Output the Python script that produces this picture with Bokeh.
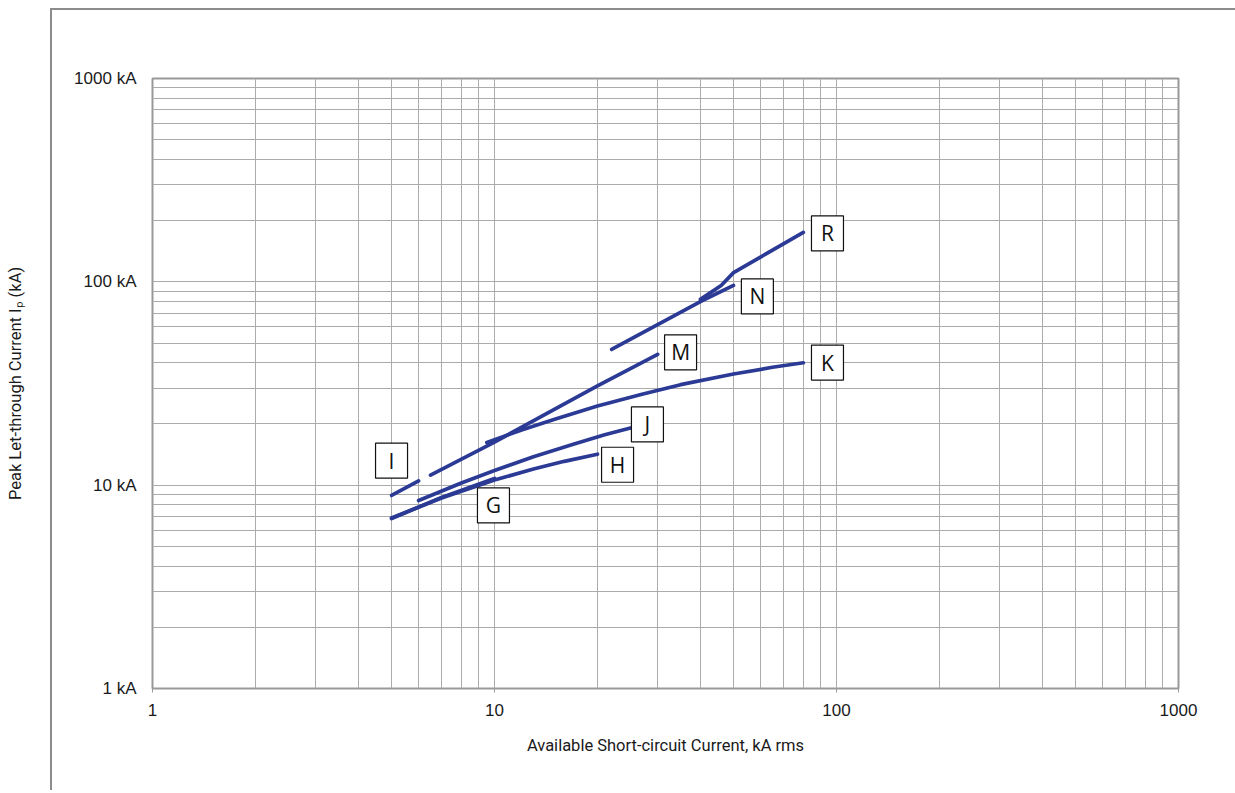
from bokeh.plotting import figure
from bokeh.models import FixedTicker, ColumnDataSource, InlineStyleSheet
from bokeh.core.properties import value
from bokeh.embed import file_html
from bokeh.resources import INLINE

# ---- data (kA rms available vs kA peak let-through) ----
G_x = [5, 7, 10]
G_y = [6.85, 8.7, 10.8]
H_x = [5, 7, 10, 13, 16, 20]
H_y = [6.9, 8.65, 10.6, 12.0, 13.1, 14.2]
I_x = [5, 6]
I_y = [8.9, 10.5]
J_x = [6, 8, 10, 13, 17, 21, 25.3]
J_y = [8.4, 10.25, 11.8, 13.8, 15.9, 17.7, 19.2]
M_x = [6.5, 10, 20, 30]
M_y = [11.2, 16.3, 30.8, 44]
K_x = [9.5, 12, 15, 20, 27, 35, 50, 65, 80]
K_y = [16.2, 18.7, 21.1, 24.5, 28.0, 31.2, 35.2, 38.0, 40.0]
N_x = [22, 40, 50]
N_y = [46.5, 80, 96]
R_x = [40, 46, 50, 80]
R_y = [82, 96, 111, 175]

series = [("G", G_x, G_y), ("H", H_x, H_y), ("I", I_x, I_y), ("J", J_x, J_y),
          ("M", M_x, M_y), ("K", K_x, K_y), ("N", N_x, N_y), ("R", R_x, R_y)]

label_text = ["I", "G", "H", "J", "M", "K", "N", "R"]
label_x = [5.0, 9.93, 22.9, 28.0, 35.0, 94.1, 58.7, 94.1]
label_y = [13.2, 7.95, 12.6, 19.9, 45.0, 40.1, 84.8, 173]

x_ticks = [1, 10, 100, 1000]
x_tick_labels = ["1", "10", "100", "1000"]
y_ticks = [1, 10, 100, 1000]
y_tick_labels = ["1 kA", "10 kA", "100 kA", "1000 kA"]

CURVE = "#2b3a94"
GRID = "#ababab"
FRAME = "#999999"

page_rule = InlineStyleSheet(css=""":host::after {
  content: ''; position: absolute; left: 50px; top: 8px; right: 0; bottom: 0;
  border-top: 2px solid #8c8c8c; border-left: 2px solid #8c8c8c;
  pointer-events: none; }""")

p = figure(width=1235, height=790, x_axis_type="log", y_axis_type="log",
           x_range=(1, 1000), y_range=(1, 1000),
           output_backend="svg", toolbar_location=None,
           min_border_left=152, min_border_right=57,
           min_border_top=78, min_border_bottom=102)
p.stylesheets = [page_rule]

p.outline_line_color = FRAME
p.outline_line_width = 2
p.background_fill_color = "white"
p.border_fill_color = "white"

# grid
for g in (p.xgrid, p.ygrid):
    g.grid_line_color = GRID
    g.grid_line_width = 1
    g.minor_grid_line_color = GRID
    g.minor_grid_line_width = 1

minor = [m * d for d in (1, 10, 100) for m in range(2, 10)]
p.xaxis.ticker = FixedTicker(ticks=x_ticks, minor_ticks=minor)
p.yaxis.ticker = FixedTicker(ticks=y_ticks, minor_ticks=minor)
p.xaxis.major_label_overrides = {t: s for t, s in zip(x_ticks, x_tick_labels)}
p.yaxis.major_label_overrides = {t: s for t, s in zip(y_ticks, y_tick_labels)}

for ax in (p.xaxis, p.yaxis):
    ax.axis_line_color = None
    ax.minor_tick_line_color = None
    ax.major_label_text_font = "Liberation Sans"
    ax.major_label_text_font_size = "17px"
    ax.major_label_text_color = "#1a1a1a"
    ax.axis_label_text_font = "Roboto"
    ax.axis_label_text_font_size = "16.5px"
    ax.axis_label_text_font_style = "normal"
    ax.axis_label_text_color = "#1a1a1a"

p.xaxis.major_tick_line_color = FRAME
p.xaxis.major_tick_in = 0
p.xaxis.major_tick_out = 4
p.xaxis.major_label_standoff = 11
p.xaxis.axis_label = "Available Short-circuit Current, kA rms"
p.xaxis.axis_label_standoff = 17

p.yaxis.major_tick_line_color = None
p.yaxis.major_tick_in = 0
p.yaxis.major_tick_out = 0
p.yaxis.major_label_standoff = 12
p.yaxis.axis_label = "Peak Let-through Current Iₚ (kA)"
p.yaxis.axis_label_standoff = 46

# curves
for name, xs, ys in series:
    p.line(xs, ys, line_color=CURVE, line_width=3.7, line_cap="round", line_join="round")

# label boxes
src = ColumnDataSource(dict(x=label_x, y=label_y, t=label_text))
p.rect(x="x", y="y", width=32, height=35, width_units="screen", height_units="screen",
       source=src, fill_color="white", line_color="#111111", line_width=1.2)
p.text(x="x", y="y", text="t", source=src, text_align="center", text_baseline="middle",
       text_font=value("Open Sans"), text_font_size="21px", text_color="#111111")

open("out.html", "w").write(file_html(p, INLINE))
